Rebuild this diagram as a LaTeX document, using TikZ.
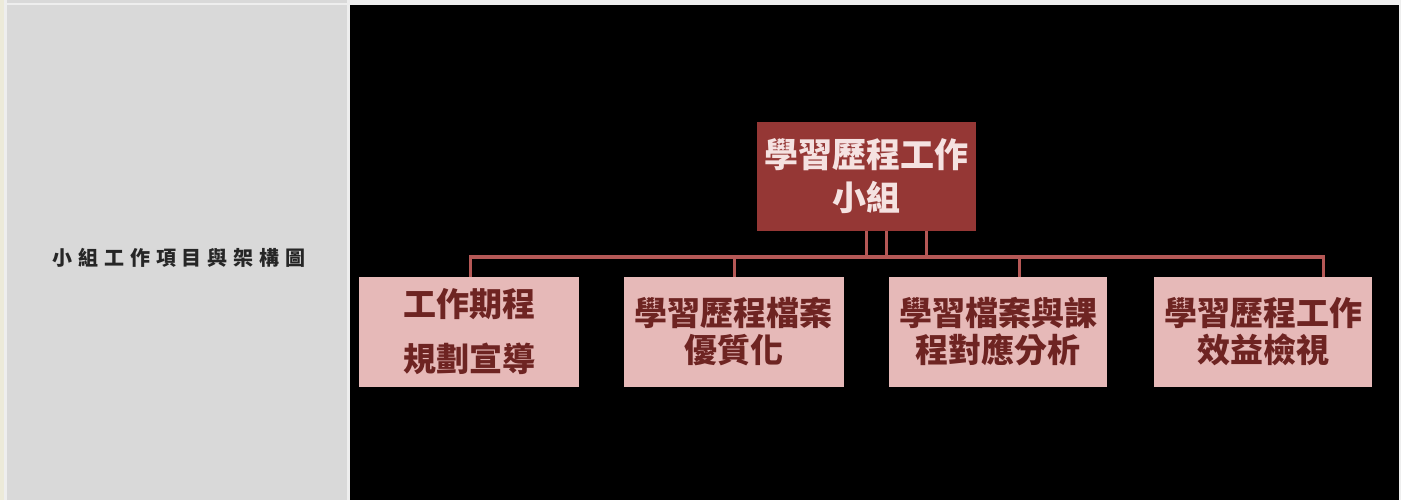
\documentclass[tikz,border=0pt]{standalone}
\usepackage{fontspec}
\setmainfont{Noto Sans CJK TC}
\newfontfamily\labelfont[LetterSpace=29]{Noto Sans CJK TC}
\usepackage{xcolor}
\definecolor{pagelight}{HTML}{EEEEEE}
\definecolor{edgebeige}{HTML}{ECEAD9}
\definecolor{cellgray}{HTML}{D9D9D9}
\definecolor{captext}{HTML}{262626}
\definecolor{headred}{HTML}{953735}
\definecolor{headtext}{HTML}{F5E2E1}
\definecolor{itempink}{HTML}{E6B9B8}
\definecolor{itemtext}{HTML}{6E2422}
\definecolor{busred}{HTML}{B55856}

\begin{document}
\begin{tikzpicture}[x=1bp,y=-1bp,
    head/.style={fill=headred,text=headtext,inner sep=0pt,minimum width=219bp,minimum height=109bp,align=center,font=\bfseries\fontsize{34bp}{43bp}\selectfont},
    item/.style={fill=itempink,text=itemtext,inner sep=0pt,minimum width=220bp,minimum height=110bp,align=center,font=\bfseries\fontsize{33bp}{37bp}\selectfont},
    bus/.style={draw=busred,line width=3bp}]
		\useasboundingbox (0,0) rectangle (1401,500);
		  % table cells behind the chart
		  \fill[pagelight] (0,0) rectangle (1401,500);
		  \fill[edgebeige] (0,0) rectangle (4,500);
		  \fill[cellgray] (7,0) rectangle (347,3);
		  \fill[cellgray] (7,5) rectangle (347,500);
		  \fill[black] (350,5) rectangle (1399,500);
		  \node (caption) at (179,258) [text=captext,font=\labelfont\bfseries\fontsize{20bp}{22bp}\selectfont] {小組工作項目與架構圖};
		  % chart
		  \node (top) at (866.5,176.5) [head] {學習歷程工作\\小組};
		  \node (w1) at (469,332) [item] {工作期程\\[18bp]規劃宣導};
		  \node (w2) at (733.5,332) [item] {學習歷程檔案\\優質化};
		  \node (w3) at (998,332) [item,minimum width=218bp] {學習檔案與課\\程對應分析};
		  \node (w4) at (1263,332) [item,minimum width=218bp] {學習歷程工作\\效益檢視};
		  \coordinate (j1) at (866,257);
		  \coordinate (j2) at (886,257);
		  \coordinate (j3) at (926,257);
		  \coordinate (d1) at (470,257);
		  \coordinate (d2) at (734,257);
		  \coordinate (d3) at (1019,257);
		  \coordinate (d4) at (1323,257);
		  \draw [bus] (d1 |- w1.north) -- (d1) -- (d4) -- (d4 |- w4.north);
		  \draw [bus] (d2) -- (d2 |- w2.north);
		  \draw [bus] (d3) -- (d3 |- w3.north);
		  \draw [bus] (top.south -| j1) -- (j1);
		  \draw [bus] (top.south -| j2) -- (j2);
		  \draw [bus] (top.south -| j3) -- (j3);
	\end{tikzpicture}
\end{document}
